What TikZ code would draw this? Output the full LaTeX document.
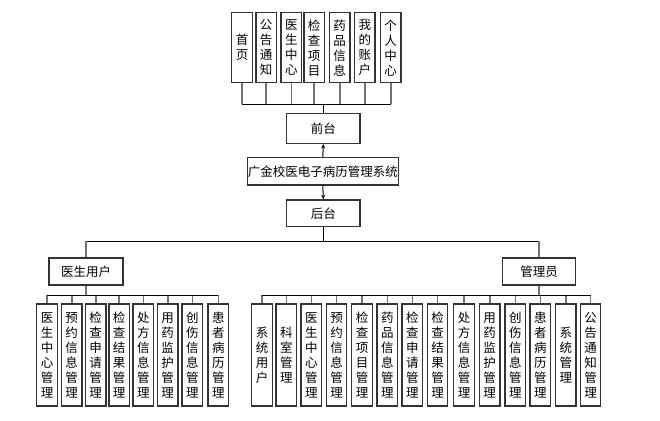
\documentclass[tikz,border=0pt]{standalone}
\usepackage{fontspec}
\newfontfamily\cjk{Noto Sans CJK SC}
\usetikzlibrary{arrows.meta}
\begin{document}
\begin{tikzpicture}[x=1pt,y=-1pt,
  box/.style={draw=black!80, line width=1.4pt, fill=white, inner sep=0pt,
    font=\cjk\fontsize{12.5}{15}\selectfont, align=center},
  vbox/.style={box, minimum width=20.5pt, text width=13pt},
  vline/.style={draw=black!55, line width=1.6pt},
  bus/.style={draw=black, line width=1pt},
  arr/.style={draw=black, line width=1pt, -{Stealth[length=4.5pt,width=4pt]}}]
\useasboundingbox (0,0) rectangle (660,420);

% top level pages
\foreach \x/\t [count=\i] in {242/首\\页,266.2/公\\告\\通\\知,291.3/医\\生\\中\\心,314.2/检\\查\\项\\目,339.7/药\\品\\信\\息,364.8/我\\的\\账\\户,390.7/个\\人\\中\\心}
  \node[vbox, minimum height=70pt] (t\i) at (\x,47.7) {\t};
\coordinate (tb) at (0,104);
\foreach \i in {1,...,7} \draw[vline] (t\i.south) -- (t\i.south |- tb);
\draw[bus] (t1.south |- tb) -- (t7.south |- tb);

\node[box, minimum width=73.3pt, minimum height=30pt] (front) at (323.3,128.3) {前台};
\draw[bus] (front.north) -- (front.north |- tb);

\node[box, minimum width=151pt, minimum height=27.3pt] (sys) at (322.8,171.3) {广金校医电子病历管理系统};
\node[box, minimum width=73.3pt, minimum height=26.5pt] (back) at (323.3,213.3) {后台};
\draw[arr] (sys.north) -- (front.south);
\draw[arr] (sys.south) -- (back.north);

\coordinate (mb) at (0,241);
\node[box, minimum width=73.7pt, minimum height=26.7pt] (doc) at (86,271.5) {医生用户};
\node[box, minimum width=73.3pt, minimum height=26.7pt] (adm) at (539,271.5) {管理员};
\draw[bus] (back.south) -- (back.south |- mb);
\draw[bus] (doc.north |- mb) -- (adm.north |- mb);
\draw[vline] (doc.north) -- (doc.north |- mb);
\draw[vline] (adm.north) -- (adm.north |- mb);

% doctor leaves
\coordinate (db) at (0,295.3);
\foreach \x/\t [count=\i] in {47/医\\生\\中\\心\\管\\理,71.7/预\\约\\信\\息\\管\\理,95.7/检\\查\\申\\请\\管\\理,119.2/检\\查\\结\\果\\管\\理,143.3/处\\方\\信\\息\\管\\理,167.7/用\\药\\监\\护\\管\\理,192.3/创\\伤\\信\\息\\管\\理,218.3/患\\者\\病\\历\\管\\理}
  {\node[vbox, minimum height=102pt] (d\i) at (\x,355) {\t};
   \draw[vline] (d\i.north) -- (d\i.north |- db);}
\draw[bus] (d1.north |- db) -- (d8.north |- db);
\draw[vline] (doc.south) -- (doc.south |- db);

% admin leaves
\foreach \x/\t [count=\i] in {262/系\\统\\用\\户,286.3/科\\室\\管\\理,311.3/医\\生\\中\\心\\管\\理,336.5/预\\约\\信\\息\\管\\理,362/检\\查\\项\\目\\管\\理,387.3/药\\品\\信\\息\\管\\理,412.4/检\\查\\申\\请\\管\\理,437.5/检\\查\\结\\果\\管\\理,464/处\\方\\信\\息\\管\\理,489.7/用\\药\\监\\护\\管\\理,515.3/创\\伤\\信\\息\\管\\理,540.3/患\\者\\病\\历\\管\\理,565.8/系\\统\\管\\理,590.5/公\\告\\通\\知\\管\\理}
  {\node[vbox, minimum height=102pt] (a\i) at (\x,355) {\t};
   \draw[vline] (a\i.north) -- (a\i.north |- db);}
\draw[bus] (a1.north |- db) -- (a14.north |- db);
\draw[vline] (adm.south) -- (adm.south |- db);
\end{tikzpicture}
\end{document}
